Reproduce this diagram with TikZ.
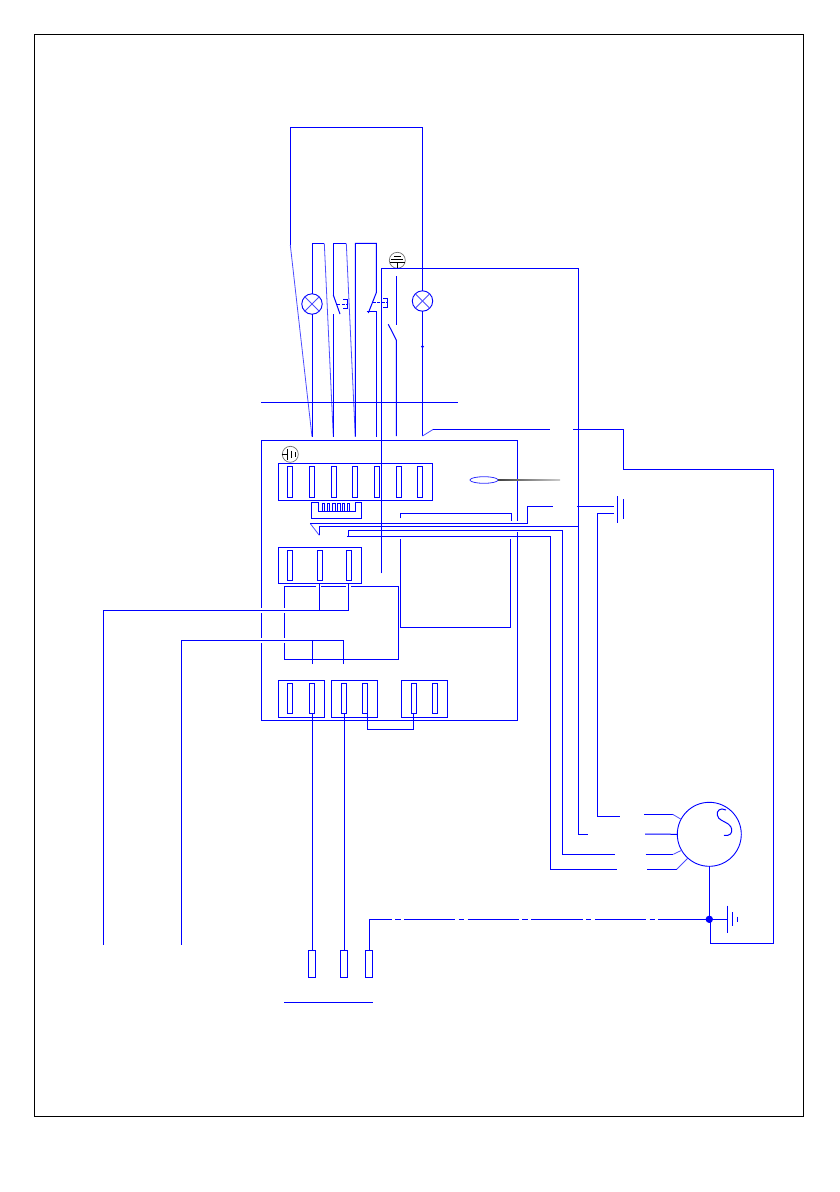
\documentclass[tikz,border=0pt]{standalone}
\usetikzlibrary{shapes.geometric}

\definecolor{wireblue}{RGB}{0,0,255}

\tikzset{
	wire/.style={draw=wireblue,line width=1pt},
	thinwire/.style={draw=wireblue!70,line width=.8pt},
	pushrod/.style={draw=wireblue,line width=1pt,dash pattern=on 3pt off 1.5pt},
	earthline/.style={draw=black,line width=.9pt},
	cell/.style={draw=wireblue,line width=1pt,rectangle,inner sep=0pt,outer sep=0pt},
	slot/.style={cell,minimum width=5pt,minimum height=30.4pt},
	pinslot/.style={cell,minimum width=2.4pt,minimum height=7.6pt},
	plug/.style={cell,minimum width=7pt,minimum height=27pt},
	terminal/.style={cell,minimum width=46pt,minimum height=37.3pt},
	lamp/.style={circle,draw=wireblue,line width=.9pt,inner sep=0pt,outer sep=0pt,minimum size=20.4pt},
	earth/.style={circle,draw=black!55,line width=.7pt,inner sep=0pt,outer sep=0pt,minimum size=16pt},
	motor/.style={circle,draw=wireblue,line width=.9pt,inner sep=0pt,outer sep=0pt,minimum size=64pt},
	spot/.style={circle,fill=wireblue,inner sep=0pt,outer sep=0pt},
}

\begin{document}
\begin{tikzpicture}[x=1pt,y=-1pt]
	\useasboundingbox (0,0) rectangle (840,1192);
	\node [draw=black,line width=1pt,inner sep=0pt,outer sep=0pt,minimum width=769.6pt,minimum height=1082.6pt] (frame) at (419,575.5) {};
	\node [cell,minimum width=255.6pt,minimum height=280pt] (box) at (389.5,580.3) {};

	\node [cell,minimum width=154pt,minimum height=37pt] (blockT) at (355.3,481.8) {};
	\foreach \i/\x in {1/290.3,2/311.7,3/333.7,4/355,5/376.7,6/398.7,7/420}
		\node [slot] (t\i) at (\x,482) {};
	\foreach \i/\x in {1/323.3,2/328.7,3/334,4/339,5/343.7,6/348.7}
		\node [pinslot] (p\i) at (\x,507.2) {};
	\node [cell,minimum width=83pt,minimum height=36.3pt] (blockM) at (319.8,565.2) {};
	\foreach \i/\x in {1/290.3,2/319.7,3/348.7}
		\node [slot] (m\i) at (\x,565.3) {};
	\node [terminal] (blockA) at (301.3,698.7) {};
	\node [terminal] (blockB) at (354.3,698.7) {};
	\node [terminal] (blockC) at (424.3,698.7) {};
	\foreach \i/\x in {1/290.3,2/312,3/344,4/365,5/413.7,6/435}
		\node [slot] (b\i) at (\x,698.3) {};

	\node [plug] (plugA) at (312,963.8) {};
	\node [plug] (plugB) at (344,963.8) {};
	\node [plug] (plugC) at (369,963.8) {};

	\node [lamp] (lampA) at (312,304) {};
	\node [lamp] (lampB) at (422.5,301) {};
	\node [motor] (motor) at (709.3,834.3) {};
	\node [spot,minimum size=7.4pt] (junction) at (709.3,919.3) {};
	\node [spot,minimum size=3pt] (dotF) at (422.5,346.7) {};
	\node [earth] (earthT) at (397.3,260.3) {};
	\node [earth] (earthB) at (290.3,454.3) {};
	\node [ellipse,draw=wireblue!80,line width=.8pt,inner sep=0pt,outer sep=0pt,minimum width=28pt,minimum height=6.6pt] (oval) at (484,480) {};

	\foreach \name/\x/\y in {
		loopT/290.3/127.3, loopL/290.3/245,
		slantA/324.3/243.3, slantB/346.3/243.3, topD/376.3/243.3,
		pinA/312/436.7, pinB/333.3/436.7, pinC/355.3/436.7, pinD/376.3/436.7, pinE/396.3/436, pinF/422.5/436,
		swA/333.3/295, swAend/340/314, swAfree/333.3/314,
		swB/376.3/292.7, swBend/368.3/313, seatB/366.7/311.3,
		swC/396.3/276, swCend/396.3/324.7, swDfree/388.3/324.3, swD/396.3/340,
		rodA/337.3/304, rodAend/347.3/304, capA/343.3/299.3, capAb/343.3/308.7,
		rodB/372.7/302.7, rodBend/387.3/302.7, capB/383.3/298.3, capBb/383.3/307.3,
		railL/261/402.3, railR/458/402.3,
		kneeF/433.3/429.3, endF/550/429.3, resF/573.3/429.3, bendR/623.3/469.3, farR/773.7/469.3, farB/773.7/943.3, gndK/710.3/943.3, gndT/710.3/919.3,
		stubI/381.3/573.3, capT/578.3/268.3, motorB/587.7/834,
		triA/310.3/523.6, triB/319.3/535.3, capMid/578.3/526.3,
		kneeG/527.3/523.6, endG/552.7/506.3, resG/577.3/506.3, batA/614/506.3, batB/614/513.3, kneeB/597.3/513.3, motorA/620/816.3,
		plateA/617.3/496, plateAb/617.3/522.7, plateB/623.3/499, plateBb/623.3/519,
		kneeH/348.3/536, capH/562.3/530.3, motorC/615/854.3,
		startJ/347/536.3, capJ/550.3/536.3, motorD/617/869.3,
		rectTL/400.3/539, rectBR/510.7/627.3, rectTR/510.7/539.3,
		ledge/400.3/518.3, ledgeR/511.7/513.5, ledgeE/511.7/520.7,
		loopBL/284.3/659.7, loopTR/398/586,
		stubM/319.7/583.3, junM/319.7/610.3, stubN/348.3/583.3, leftA/103/610.3, endA/103/945,
		kneeK/343.3/664, leftB/181.5/640.3, endB/181.5/945, stubL/312.3/664, junL/312.3/640.3,
		corner/369/919.3, jumpA/367.3/713.3, jumpB/413.3/729.3, jumpC/413.3/713.3,
		underL/284/1002.3, underR/372.7/1002.3,
		leadA/644/814.3, leadAk/672.7/814.3, leadB/645/834, leadC/645.7/854.3, leadCk/673.3/854.3, leadD/647/869.3, leadDk/676.7/869.3,
		groundP/727.3/919.3, groundA/727.3/905.7, groundAb/727.3/932.7, groundB/732.3/912.3, groundBb/732.3/926, groundC/737.3/916.7, groundCb/737.3/922,
		leadEnd/560/480.5}
		\coordinate (\name) at (\x,\y);

	\draw [wire] (lampB.north) |- (loopT) -- (loopL);
	\draw [thinwire] (loopL) -- (pinA);
	\draw [wire] (lampA.north) |- (slantA);
	\draw [thinwire] (slantA) -- (pinB);
	\draw [wire] (lampA.south) -- (pinA);
	\draw [wire] (swA) |- (slantB);
	\draw [thinwire] (slantB) -- (pinC);
	\draw [wire] (swA) -- (swAend);
	\draw [wire] (swAfree) -- (pinB);
	\draw [wire] (pinC) |- (topD) -- (swB) -- (swBend);
	\draw [wire] (seatB) -| (pinD);
	\draw [wire] (swC) -- (swCend);
	\draw [wire] (swDfree) -- (swD) -- (pinE);
	\draw [wire] (lampB.south) -- (pinF);
	\draw [thinwire] (lampA.north west) -- (lampA.south east);
	\draw [thinwire] (lampA.north east) -- (lampA.south west);
	\draw [thinwire] (lampB.north west) -- (lampB.south east);
	\draw [thinwire] (lampB.north east) -- (lampB.south west);
	\draw [pushrod] (rodA) -- (rodAend);
	\draw [pushrod] (rodB) -- (rodBend);
	\draw [wire] (capA) -| (rodAend) |- (capAb);
	\draw [wire] (capB) -| (rodBend) |- (capBb);
	\draw [wire] (railL) -- (railR);
	\draw [earthline] (earthT.center) +(-3.5,-3.6) -- +(3.5,-3.6) +(-6,-1) -- +(6,-1) +(-7.5,2.4) -- +(7.5,2.4) +(0,2.4) -- +(0,8);
	\draw [earthline] (earthB.center) +(-8.5,0) -- +(-2.6,0) +(-2.6,-5.3) -- +(-2.6,5.7) +(.7,-3.6) -- +(.7,4) +(4.7,-2.3) -- +(4.7,2.7);

	\draw [thinwire] (pinF) -- (kneeF);
	\draw [wire] (kneeF) -- (endF);
	\draw [wire] (resF) -| (bendR) -- (farR) -- (farB) -- (gndK) -- (gndT);
	\draw [wire] (stubI) |- (capT) |- (motorB);
	\shade [left color=black!75,right color=black!20] (oval.east) ++(0,-.5) rectangle (leadEnd);
	\draw [wire] (311.7,502) -- (311.7,518.3) -- (361.3,518.3) -- (361.3,502) -- (355,502) -- (355,511.7) -- (318.3,511.7) -- (318.3,502) -- cycle;

	\draw [wire] (loopBL) rectangle (loopTR);
	\foreach \x/\y in {284.3/610.3,284.3/640.3,261.7/610.3,261.7/640.3,318.5/586,348.5/586}
		\fill [white] (\x-2.4,\y-2.4) rectangle (\x+2.4,\y+2.4);
	\fill [white] (515,521) rectangle (519.5,532);

	\draw [wire] (stubM) -- (junM);
	\draw [wire] (stubN) |- (leftA) -- (endA);
	\draw [wire] (kneeK) |- (leftB) -- (endB);
	\draw [wire] (stubL) -- (junL);
	\draw [thinwire] (triA) -- (triB);
	\draw [wire] (triB) |- (capMid);
	\draw [wire] (triA) -- (kneeG) |- (endG);
	\draw [wire] (resG) -- (batA);
	\draw [wire] (batB) -- (kneeB) |- (motorA);
	\draw [wire] (plateA) -- (plateAb);
	\draw [wire] (plateB) -- (plateBb);
	\draw [wire] (kneeH) |- (capH) |- (motorC);
	\draw [wire] (startJ) -- (capJ) |- (motorD);
	\draw [wire] (rectTL) |- (rectBR) -- (rectTR);
	\draw [wire] (ledge) |- (ledgeR) -- (ledgeE);

	\draw [wire] (b2.south) -- (plugA.north);
	\draw [wire] (b3.south) -- (plugB.north);
	\draw [wire] (jumpA) |- (jumpB) -- (jumpC);
	\draw [wire] (plugC.north) -- (corner);
	\draw [wire,dash pattern=on 51.3pt off 3.4pt on 5.5pt off 3.4pt,dash phase=28.6pt] (corner) -- (junction);
	\draw [wire] (underL) -- (underR);

	\draw [wire] (leadA) -- (leadAk);
	\draw [thinwire] (leadAk) -- (motor.152);
	\draw [wire] (leadB) -- (motor.west);
	\draw [wire] (leadC) -- (leadCk);
	\draw [thinwire] (leadCk) -- (motor.210);
	\draw [wire] (leadD) -- (leadDk);
	\draw [thinwire] (leadDk) -- (motor.228);
	\draw [wire] (726,810) .. controls (720,807) and (716.5,811) .. (717.3,815) .. controls (718,820) and (724,821) .. (728.3,824) .. controls (732,827) and (733,831) .. (730.5,834) .. controls (729,835.5) and (726,836) .. (724,835.3);
	\draw [wire] (motor.south) -- (junction);
	\draw [wire] (junction) -- (groundP);
	\draw [wire] (groundA) -- (groundAb);
	\draw [wire] (groundB) -- (groundBb);
	\draw [wire] (groundC) -- (groundCb);
\end{tikzpicture}
\end{document}
